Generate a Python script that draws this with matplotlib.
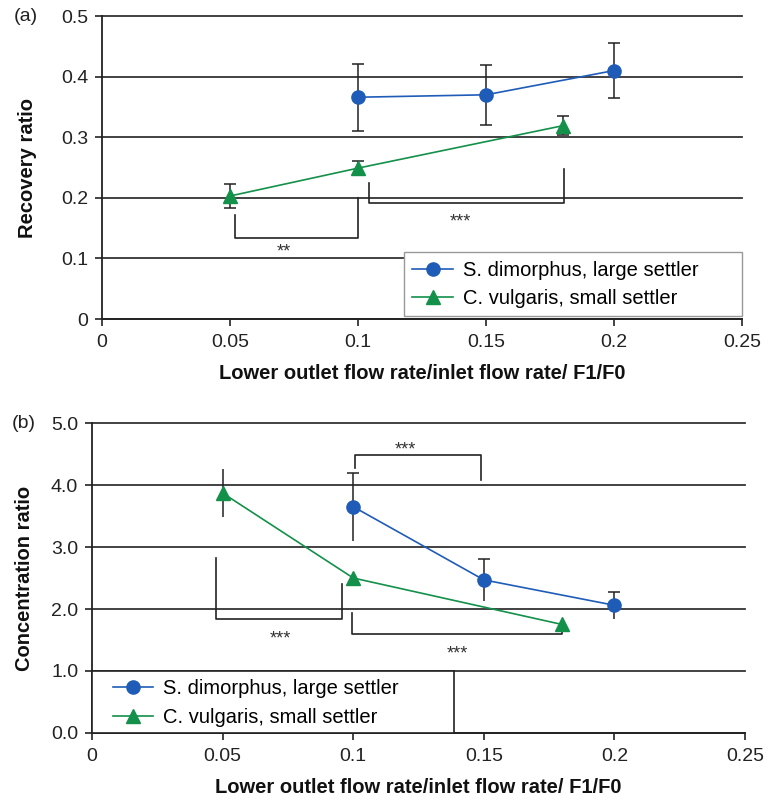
import numpy as np
import matplotlib
matplotlib.use('Agg')
import matplotlib.pyplot as plt
import matplotlib.patches as patches

plt.rcParams['font.family'] = ['Liberation Sans', 'DejaVu Sans']

# panel (a) recovery ratio
sd_x = [0.1, 0.15, 0.2]
sd_rec = [0.366, 0.370, 0.410]
sd_rec_err = [0.055, 0.050, 0.045]
cv_x = [0.05, 0.1, 0.18]
cv_rec = [0.203, 0.249, 0.319]
cv_rec_err = [0.020, 0.011, 0.016]

# panel (b) concentration ratio
sd_conc = [3.65, 2.47, 2.06]
sd_conc_err = [0.55, 0.34, 0.22]
cv_conc = [3.87, 2.50, 1.75]
cv_conc_err = [0.39, 0.05, 0.05]

xticks = [0, 0.05, 0.1, 0.15, 0.2, 0.25]
xticklabels = ['0', '0.05', '0.1', '0.15', '0.2', '0.25']
a_yticks = [0, 0.1, 0.2, 0.3, 0.4, 0.5]
a_yticklabels = ['0', '0.1', '0.2', '0.3', '0.4', '0.5']
b_yticks = [0, 1, 2, 3, 4, 5]
b_yticklabels = ['0.0', '1.0', '2.0', '3.0', '4.0', '5.0']

# significance brackets: (x_left, y_left_top, y_bar, x_right, y_right_top, label_x, label_y, label)
a_brackets = [(0.052, 0.172, 0.134, 0.100, 0.199, 0.071, 0.110, '**'),
              (0.1045, 0.224, 0.191, 0.1805, 0.247, 0.140, 0.160, '***')]
b_brackets = [(0.1007, 4.27, 4.48, 0.149, 4.08, 0.120, 4.56, '***'),
              (0.0475, 2.82, 1.84, 0.0957, 2.40, 0.072, 1.52, '***'),
              (0.0996, 1.94, 1.60, 0.1800, 1.80, 0.140, 1.27, '***')]

blue = '#1f5cb8'
green = '#13904a'
labels = ['S. dimorphus, large settler', 'C. vulgaris, small settler']

fig = plt.figure(figsize=(7.65, 8.01), dpi=100)
ax_a = fig.add_axes([0.1333, 0.6017, 0.8366, 0.3783])
ax_b = fig.add_axes([0.1203, 0.0849, 0.8536, 0.3870])


def style_axes(ax, yticks, yticklabels, ylabel, ylabelpad):
    ax.set_xlim(0, 0.25)
    ax.set_ylim(yticks[0], yticks[-1])
    ax.set_xticks(xticks)
    ax.set_xticklabels(xticklabels)
    ax.set_yticks(yticks)
    ax.set_yticklabels(yticklabels)
    for s in ['top', 'right']:
        ax.spines[s].set_visible(False)
    for s in ['left', 'bottom']:
        ax.spines[s].set_linewidth(1.3)
        ax.spines[s].set_color('#222222')
    ax.yaxis.grid(True, color='#333333', linewidth=1.3)
    for gl in ax.get_ygridlines():
        gl.set_clip_on(False)
    ax.set_axisbelow(True)
    ax.tick_params(axis='both', labelsize=14, length=5, width=1.2, color='#222222',
                   labelcolor='#222222')
    ax.tick_params(axis='x', pad=6)
    ax.tick_params(axis='y', pad=5)
    ax.set_xlabel('Lower outlet flow rate/inlet flow rate/ F1/F0', fontsize=14.5,
                  fontweight='bold', labelpad=9, color='#111111')
    ax.set_ylabel(ylabel, fontsize=14.5, fontweight='bold', labelpad=ylabelpad,
                  color='#111111')


def draw_brackets(ax, brackets):
    for xl, yl, yb, xr, yr, lx, ly, lab in brackets:
        ax.plot([xl, xl, xr, xr], [yl, yb, yb, yr], color='#222222', linewidth=1.2,
                zorder=2)
        ax.text(lx, ly, lab, ha='center', va='center', fontsize=13, color='#333333')


def add_legend(ax, anchor, pad, frame=True):
    leg = ax.legend(loc='lower left', bbox_to_anchor=anchor, mode='expand',
                    fontsize=14.5, frameon=frame, fancybox=False, borderaxespad=0,
                    handlelength=2.0, handletextpad=0.5, labelspacing=0.45,
                    borderpad=pad)
    return leg


# panel (a)
style_axes(ax_a, a_yticks, a_yticklabels, 'Recovery ratio', 17)
ax_a.errorbar(sd_x, sd_rec, yerr=sd_rec_err, fmt='none', ecolor='#222222',
              elinewidth=1.1, capsize=4, capthick=1.1, zorder=3)
ax_a.errorbar(cv_x, cv_rec, yerr=cv_rec_err, fmt='none', ecolor='#222222',
              elinewidth=1.1, capsize=4, capthick=1.1, zorder=3)
ax_a.plot(sd_x, sd_rec, '-o', color=blue, markersize=9.5, linewidth=1.2,
          label=labels[0], zorder=4)
ax_a.plot(cv_x, cv_rec, '-^', color=green, markersize=10, linewidth=1.2,
          label=labels[1], zorder=4)
draw_brackets(ax_a, a_brackets)
leg_a = add_legend(ax_a, (0.4719, 0.009, 0.5281, 0.2), 0.42)
leg_a.get_frame().set_edgecolor('#999999')
leg_a.get_frame().set_linewidth(1.0)
leg_a.get_frame().set_alpha(1)
ax_a.text(-0.138, 1.0, '(a)', transform=ax_a.transAxes, fontsize=14,
          ha='left', va='center', color='#222222')

# panel (b)
style_axes(ax_b, b_yticks, b_yticklabels, 'Concentration ratio', 12)
eb = ax_b.errorbar(sd_x, sd_conc, yerr=sd_conc_err, fmt='none', ecolor='#222222',
                   elinewidth=1.1, capsize=4, capthick=1.1, zorder=3)
eb[1][0].set_visible(False)  # only top caps
ax_b.errorbar(cv_x, cv_conc, yerr=cv_conc_err, fmt='none', ecolor='#222222',
              elinewidth=1.1, capsize=0, zorder=3)
ax_b.plot(sd_x, sd_conc, '-o', color=blue, markersize=9.5, linewidth=1.2,
          label=labels[0], zorder=4)
ax_b.plot(cv_x, cv_conc, '-^', color=green, markersize=10, linewidth=1.2,
          label=labels[1], zorder=4)
draw_brackets(ax_b, b_brackets)
# legend box in (b) is wider than its content
box_b = patches.Rectangle((0, 0), 0.555, 0.2, transform=ax_b.transAxes,
                          facecolor='white', edgecolor='#222222', linewidth=1.2,
                          zorder=5, clip_on=False)
ax_b.add_patch(box_b)
leg_b = add_legend(ax_b, (0.022, 0.0, 0.53, 0.2), 0.32, frame=False)
leg_b.set_zorder(6)
ax_b.text(-0.123, 1.0, '(b)', transform=ax_b.transAxes, fontsize=14,
          ha='left', va='center', color='#222222')

fig.savefig('out.png', dpi=100)
